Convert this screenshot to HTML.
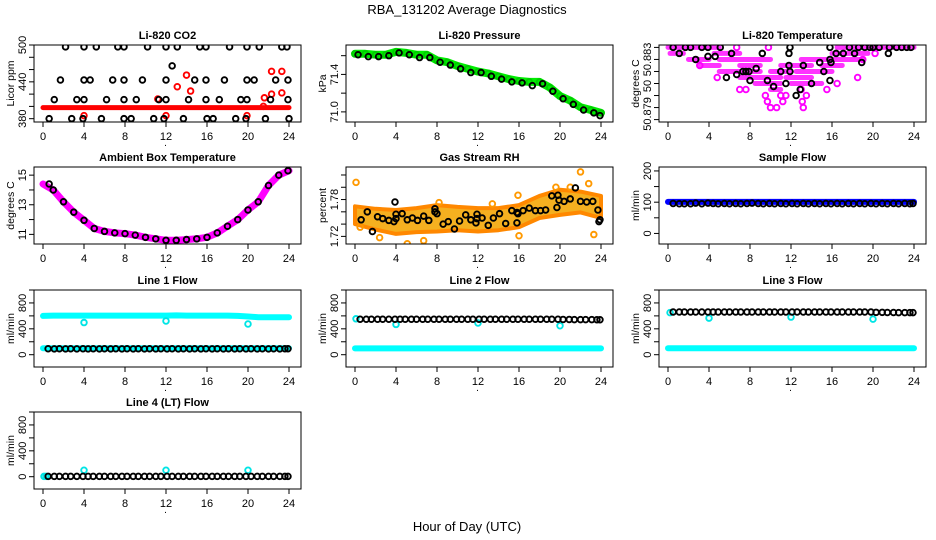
<!DOCTYPE html>
<html><head><meta charset="utf-8"><style>
html,body{margin:0;padding:0;background:#fff;}
svg{display:block;font-family:"Liberation Sans",sans-serif;}
</style></head><body>
<svg id="chart" width="936" height="540" viewBox="0 0 936 540" xmlns="http://www.w3.org/2000/svg">
<text x="467" y="14" font-size="13" text-anchor="middle">RBA_131202  Average Diagnostics</text>
<text x="467" y="531" font-size="13" text-anchor="middle">Hour of Day (UTC)</text>
</svg>
<script>
// ---------- data ----------
const xTicks = [0,4,8,12,16,20,24];
const flowHours = [0.5,1.1,1.6,2.2,2.7,3.3,3.9,4.4,4.9,5.5,6.0,6.6,7.1,7.7,8.2,8.8,9.3,9.9,10.4,11.0,11.5,12.1,12.6,13.2,13.7,14.3,14.8,15.4,15.9,16.5,17.0,17.6,18.1,18.7,19.2,19.8,20.3,20.9,21.4,22.0,22.5,23.1,23.6,23.9];
const bandHours = [0,1,2,3,4,5,6,7,8,9,10,11,12,13,14,15,16,17,18,19,20,21,22,23,24];

// CO2
const co2Hours = [2.2,4.0,5.2,7.3,7.9,10.2,12.0,13.1,15.3,15.9,18.2,19.9,21.1,23.3,23.8, 1.7,4.0,4.6,6.8,7.9,9.7,12.0,14.8,15.9,17.7,19.9,20.6,22.7,23.9,12.6, 1.1,3.3,4.0,6.2,7.9,9.1,11.3,12.0,14.2,15.9,17.2,19.3,19.9,22.2,23.9, 0.6,2.8,3.9,5.7,7.9,8.6,10.8,11.8,13.7,16.0,16.6,18.8,19.8,21.7,24.0];
const co2Values = [497,497,497,497,497,497,497,497,497,497,497,497,497,497,497, 443,443,443,443,443,443,443,443,443,443,443,443,443,443,466, 411,411,411,411,411,411,411,411,411,411,411,411,411,411,411, 380,380,380,380,380,380,380,380,380,380,380,380,380,380,380];
const co2RedBand = [398,398,398,398,398,398,398,398,398,398,398,398,398,398,398,398,398,398,398,398,398,398,398,398,398];
const co2RedHours = [4.0,11.2,12.0,13.1,14.0,14.4,19.9,21.5,21.6,22.3,22.3,23.3,23.3];
const co2RedValues = [385,412,385,432,451,425,385,400,414,457,420,457,422];

// Pressure
const presGreen = [71.62,71.62,71.61,71.61,71.64,71.63,71.61,71.61,71.55,71.53,71.49,71.46,71.43,71.41,71.38,71.35,71.33,71.32,71.32,71.26,71.17,71.12,71.05,71.02,70.99];
const presBlack = [71.61,71.59,71.59,71.60,71.63,71.61,71.58,71.58,71.53,71.50,71.46,71.42,71.42,71.38,71.35,71.32,71.31,71.28,71.30,71.22,71.14,71.08,71.02,70.99,70.96];

// Li-820 temperature
const tempSegStart = [0,16.5,0.2,4.5,16,2,5,13,3,7,11,15,5,10,12.5,7,11.5,8.5,12,10];
const tempSegEnd   = [5,24,1.5,7,19.5,4,10,19,5,9,14,17,9,12,16,11,14,11,15,11];
const tempSegValue = [50.8840,50.8840,50.8835,50.8835,50.8835,50.8830,50.8830,50.8830,50.8825,50.8825,50.8825,50.8825,50.8820,50.8820,50.8820,50.8815,50.8815,50.8810,50.8810,50.8805];
const tempPinkHours = [6.7,9.8,16.5,13.0,15.5,9.5,11.0,11.5,13.5,9.7,11.2,13.1,10.0,10.6,13.2,4.8,3.1,19.0,18.5,20.2,7.0,7.6];
const tempPinkValues = [50.8840,50.8840,50.8810,50.8805,50.8805,50.8800,50.8800,50.8800,50.8800,50.8795,50.8795,50.8795,50.8790,50.8790,50.8790,50.8815,50.8825,50.8830,50.8815,50.8835,50.8805,50.8805];
const tempBlackHours = [0.5,1.1,1.7,2.2,3.3,3.9,2.7,3.9,4.6,5.1,5.7,6.2,6.7,7.3,7.6,7.9,8.0,8.6,9.2,9.7,10.3,11.0,11.5,11.8,11.8,11.9,11.9,12.5,12.9,13.2,14.0,14.8,15.2,15.8,15.8,15.9,15.8,16.4,17.1,17.7,18.2,18.6,18.9,19.2,19.7,20.0,20.6,21.5,21.6,22.3,22.8,23.3,23.7];
const tempBlackValues = [50.8840,50.8835,50.8840,50.8840,50.8840,50.8840,50.8830,50.88325,50.88325,50.8840,50.8815,50.8835,50.88175,50.8820,50.8820,50.8820,50.88125,50.88225,50.8835,50.88125,50.88075,50.8820,50.8810,50.8835,50.8825,50.8820,50.8840,50.8800,50.8805,50.8825,50.8810,50.88275,50.8820,50.88125,50.8830,50.88275,50.8840,50.8835,50.8835,50.8840,50.8835,50.8840,50.88275,50.8840,50.8840,50.8840,50.8840,50.8835,50.8840,50.8840,50.8840,50.8840,50.8840];

// Ambient box temperature
const ambValues = [14.4,14.0,13.2,12.5,11.95,11.4,11.2,11.1,11.05,10.95,10.8,10.7,10.6,10.6,10.65,10.7,10.8,11.1,11.55,12.0,12.65,13.2,14.3,15.0,15.3];

// Gas stream RH
const rhBandHours = [0,2,4,6,8,10,12,14,16,18,20,22,24];
const rhBandTop = [1.769,1.765,1.763,1.766,1.771,1.768,1.766,1.766,1.771,1.786,1.796,1.793,1.786];
const rhBandBottom = [1.740,1.731,1.724,1.727,1.728,1.730,1.728,1.730,1.735,1.750,1.755,1.759,1.750];
const rhBlackHours = [0.6,1.2,1.7,2.2,2.7,3.3,3.8,3.9,4.0,4.0,4.6,5.1,5.6,6.1,6.7,7.2,7.8,7.8,8.0,8.6,9.1,9.7,10.2,10.8,11.3,11.8,11.9,11.9,12.4,13.0,13.5,14.1,14.7,15.3,15.8,15.9,15.8,16.4,17.0,17.6,18.1,18.6,19.2,19.7,19.8,19.9,20.4,21.0,21.5,22.0,22.6,23.2,23.7,23.8,23.9];
const rhBlackValues = [1.747,1.760,1.728,1.752,1.749,1.746,1.744,1.776,1.756,1.749,1.757,1.747,1.750,1.746,1.753,1.746,1.765,1.760,1.757,1.740,1.744,1.732,1.745,1.755,1.747,1.742,1.756,1.749,1.750,1.738,1.750,1.757,1.741,1.762,1.759,1.757,1.742,1.762,1.766,1.762,1.762,1.763,1.786,1.767,1.787,1.779,1.777,1.781,1.799,1.777,1.776,1.777,1.763,1.744,1.747];
const rhOutHours = [0.1,5.1,6.7,2.4,15.9,16.0,22.0,23.3,22.8,19.6,0.5,8.2,13.4,21.0];
const rhOutValues = [1.808,1.708,1.713,1.718,1.787,1.721,1.825,1.723,1.806,1.800,1.735,1.775,1.773,1.800];

// Sample flow
const sampBlue = [101,101,101,101,101,101,101,101,101,101,101,101,101,101,101,101,101,101,101,101,101,101,101,101,101];
const sampBlack = [96,95,95,95,97,95,97,96,95,96,95,96,95,96,97,96,95,96,95,96,95,96,95,96,95,96,95,96,95,96,95,96,95,96,95,96,95,96,95,96,95,96,95,96];

// Flows
const l1Cyan = [600,605,605,605,605,605,605,605,605,605,605,605,605,608,605,605,605,605,605,600,590,580,578,578,578];
const l1CyanLow = [100,100,100,100,100,100,100,100,100,100,100,100,100,100,100,100,100,100,100,100,100,100,100,100,100];
const l1Black = [92,90,92,90,92,90,92,90,92,90,92,90,92,90,92,90,92,90,92,90,92,90,92,90,92,90,92,90,92,90,92,90,92,90,92,90,92,90,92,90,92,90,92,92];
const l1OutHours = [4.0,12.0,20.0];
const l1OutValues = [497,521,474];

const l2CyanLow = [98,98,98,98,98,98,98,98,98,98,98,98,98,98,98,98,98,98,98,98,98,98,98,98,98];
const l2Black = [548,548,548,548,548,548,548,548,548,548,548,548,548,548,548,548,548,548,548,548,548,548,548,548,548,548,548,548,548,548,548,548,548,548,548,548,545,545,542,542,542,542,540,540];
const l2OutHours = [0.1,4.0,12.0,20.0];
const l2OutValues = [555,468,490,447];

const l3CyanLow = [99,99,99,99,99,99,99,99,99,99,99,99,99,99,99,99,99,99,99,99,99,99,99,99,99];
const l3Black = [660,660,660,660,660,660,660,660,660,660,660,660,660,660,660,660,660,660,660,660,660,660,660,660,660,660,660,660,660,660,660,660,660,660,660,660,655,655,652,652,650,650,650,650];
const l3OutHours = [0.2,4.0,12.0,20.0];
const l3OutValues = [650,566,582,550];

const l4Black = [5,5,5,5,5,5,5,5,5,5,5,5,5,5,5,5,5,5,5,5,5,5,5,5,5,5,5,5,5,5,5,5,5,5,5,5,5,5,5,5,5,5,5,5];
const l4OutHours = [0.1,0.3,4.0,12.0,20.0];
const l4OutValues = [5,5,100,100,100];

// ---------- drawing ----------
const NS = "http://www.w3.org/2000/svg";
const svg = document.getElementById('chart');
function mk(tag, attrs, parent){
  const e = document.createElementNS(NS, tag);
  for (const k in attrs) e.setAttribute(k, attrs[k]);
  (parent||svg).appendChild(e);
  return e;
}
const colLeft = [34, 346, 659];
const rowTop = [45, 167, 290, 412];
const BW = 267, BH = 77;

function makePanel(col, row, cfg){
  const p = {left: colLeft[col], top: rowTop[row], ymin: cfg.ymin, ymax: cfg.ymax};
  p.X = h => p.left + 9 + h * (246/24);
  p.Y = v => p.top + (p.ymax - v) / (p.ymax - p.ymin) * BH;
  const g = mk('g', {});
  
  
  p.g = g;
  const t = mk('text', {x: p.left + BW/2, y: p.top - 6, 'font-size': 11, 'font-weight': 'bold', 'text-anchor': 'middle'}, g);
  
  
  t.textContent = cfg.title;
  const yl = mk('text', {x: 0, y: 0, 'font-size': 10.5, 'text-anchor': 'middle', transform: `translate(${p.left-20},${p.top+BH/2}) rotate(-90)`}, g);
  
  
  yl.textContent = cfg.ylab;
  const cid = 'clip-' + cfg.name;
  const cp = mk('clipPath', {id: cid}, g);
  mk('rect', {x: p.left, y: p.top, width: BW, height: BH}, cp);
  p.m = mk('g', {'clip-path': `url(#${cid})`}, g);
  const box = mk('rect', {x: p.left, y: p.top, width: BW, height: BH, fill: 'none', stroke: '#000', 'stroke-width': 1}, g);
  
  
  xTicks.forEach(v => {
    const x = p.X(v);
    mk('line', {x1: x, x2: x, y1: p.top+BH, y2: p.top+BH+5, stroke: '#000'}, g);
    const tl = mk('text', {x: x, y: p.top+BH+18, 'font-size': 11, 'text-anchor': 'middle'}, g);
    
    
    tl.textContent = v;
  });
  mk('line', {x1: p.X(0), x2: p.X(24), y1: p.top+BH, y2: p.top+BH, stroke: '#000'}, g);
  const dot = mk('text', {x: p.left + BW/2 - 2, y: p.top+BH+24, 'font-size': 10, 'text-anchor': 'middle'}, g);
  
  
  dot.textContent = '.';
  cfg.yTicks.forEach(v => {
    const y = p.Y(v);
    mk('line', {x1: p.left-5, x2: p.left, y1: y, y2: y, stroke: '#000'}, g);
  });
  cfg.yLabels.forEach((v, i) => {
    const y = p.Y(v);
    const tl = mk('text', {x: 0, y: 0, 'font-size': 11, 'text-anchor': 'middle', transform: `translate(${p.left-8},${y}) rotate(-90)`}, g);
    
    
    tl.textContent = cfg.yLabelText ? cfg.yLabelText[i] : v;
  });
  return p;
}
function pts(p, hours, vals, color, name){
  hours.forEach((h, i) => {
    const c = mk('circle', {cx: p.X(h), cy: p.Y(vals[i]), r: 2.8, fill: 'none', stroke: color, 'stroke-width': 1.9}, p.m);
    
    
  });
}
function band(p, hours, vals, color, w, name){
  const d = hours.map((h, i) => p.X(h).toFixed(1) + ',' + p.Y(vals[i]).toFixed(1)).join(' ');
  const l = mk('polyline', {points: d, fill: 'none', stroke: color, 'stroke-width': w, 'stroke-linejoin': 'round', 'stroke-linecap': 'round'}, p.m);
  
  
}
const flowTicks = [0,200,400,600,800,1000];
const flowLabels = [0,400,800];

let p = makePanel(0, 0, {name:'co2', title:'Li-820 CO2', ylab:'Licor ppm', ymin:374.6, ymax:500, yTicks:[380,400,420,440,460,480,500], yLabels:[380,440,500]});
band(p, bandHours, co2RedBand, '#ff0000', 5, 'co2-red-band');
pts(p, co2RedHours, co2RedValues, '#ff0000', 'co2-red-point');
pts(p, co2Hours, co2Values, '#000', 'co2-black-point');

p = makePanel(1, 0, {name:'pressure', title:'Li-820 Pressure', ylab:'kPa', ymin:70.892, ymax:71.714, yTicks:[71.0,71.2,71.4,71.6], yLabels:[71.0,71.4], yLabelText:['71.0','71.4']});
band(p, bandHours, presGreen, '#00ee00', 8, 'pressure-green-band');
pts(p, bandHours, presGreen, '#00cc00', 'pressure-green-point');
pts(p, bandHours.map(h => Math.min(h + 0.3, 23.9)), presBlack, '#000', 'pressure-black-point');

p = makePanel(2, 0, {name:'li820-temp', title:'Li-820 Temperature', ylab:'degrees C', ymin:50.8778, ymax:50.8842, yTicks:[50.878,50.879,50.880,50.881,50.882,50.883,50.884], yLabels:[50.883,50.88079,50.87847], yLabelText:['50.883','50','50.879']});
tempSegStart.forEach((s, i) => {
  const l = mk('line', {x1: p.X(s), x2: p.X(tempSegEnd[i]), y1: p.Y(tempSegValue[i]), y2: p.Y(tempSegValue[i]), stroke: '#ff33ff', 'stroke-width': 5, 'stroke-linecap': 'round'}, p.m);
  
  
});
pts(p, tempPinkHours, tempPinkValues, '#ff00ff', 'temp-magenta-point');
pts(p, tempBlackHours, tempBlackValues, '#000', 'temp-black-point');

p = makePanel(0, 1, {name:'ambient', title:'Ambient Box Temperature', ylab:'degrees C', ymin:10.35, ymax:15.55, yTicks:[11,12,13,14,15], yLabels:[11,13,15]});
band(p, bandHours, ambValues, '#ff00ff', 7, 'ambient-magenta-band');
pts(p, bandHours.map(h => Math.max(0.6, Math.min(h, 23.9))), ambValues, '#000', 'ambient-black-point');

p = makePanel(1, 1, {name:'rh', title:'Gas Stream RH', ylab:'percent', ymin:1.7076, ymax:1.833, yTicks:[1.72,1.74,1.76,1.78,1.80,1.82], yLabels:[1.72,1.78]});
{
  const top = rhBandHours.map((h,i) => p.X(h).toFixed(1)+','+p.Y(rhBandTop[i]).toFixed(1));
  const bot = rhBandHours.map((h,i) => p.X(h).toFixed(1)+','+p.Y(rhBandBottom[i]).toFixed(1)).reverse();
  const poly = mk('polygon', {points: top.concat(bot).join(' '), fill: '#f5b020', stroke: '#ff8800', 'stroke-width': 4, 'stroke-linejoin': 'round'}, p.m);
  
  
}
pts(p, rhOutHours, rhOutValues, '#ff9900', 'rh-orange-point');
pts(p, rhBlackHours, rhBlackValues, '#000', 'rh-black-point');

p = makePanel(2, 1, {name:'sample-flow', title:'Sample Flow', ylab:'ml/min', ymin:-33.8, ymax:212.6, yTicks:[0,50,100,150,200], yLabels:[0,100,200]});
band(p, bandHours, sampBlue, '#0000ff', 6, 'sample-blue-band');
pts(p, flowHours, sampBlack, '#000', 'sample-black-point');

p = makePanel(0, 2, {name:'line1', title:'Line 1 Flow', ylab:'ml/min', ymin:-190, ymax:1000, yTicks:flowTicks, yLabels:flowLabels});
band(p, bandHours, l1Cyan, '#00ffff', 6, 'line1-cyan-band');
band(p, bandHours, l1CyanLow, '#00ffff', 6, 'line1-cyan-low-band');
pts(p, l1OutHours, l1OutValues, '#00e5e5', 'line1-cyan-point');
pts(p, flowHours, l1Black, '#000', 'line1-black-point');

p = makePanel(1, 2, {name:'line2', title:'Line 2 Flow', ylab:'ml/min', ymin:-190, ymax:1000, yTicks:flowTicks, yLabels:flowLabels});
band(p, bandHours, l2CyanLow, '#00ffff', 6, 'line2-cyan-low-band');
pts(p, l2OutHours, l2OutValues, '#00e5e5', 'line2-cyan-point');
pts(p, flowHours, l2Black, '#000', 'line2-black-point');

p = makePanel(2, 2, {name:'line3', title:'Line 3 Flow', ylab:'ml/min', ymin:-190, ymax:1000, yTicks:flowTicks, yLabels:flowLabels});
band(p, bandHours, l3CyanLow, '#00ffff', 6, 'line3-cyan-low-band');
pts(p, l3OutHours, l3OutValues, '#00e5e5', 'line3-cyan-point');
pts(p, flowHours, l3Black, '#000', 'line3-black-point');

p = makePanel(0, 3, {name:'line4', title:'Line 4 (LT) Flow', ylab:'ml/min', ymin:-190, ymax:1000, yTicks:flowTicks, yLabels:flowLabels});
pts(p, l4OutHours, l4OutValues, '#00e5e5', 'line4-cyan-point');
pts(p, flowHours, l4Black, '#000', 'line4-black-point');
</script>
</body></html>
